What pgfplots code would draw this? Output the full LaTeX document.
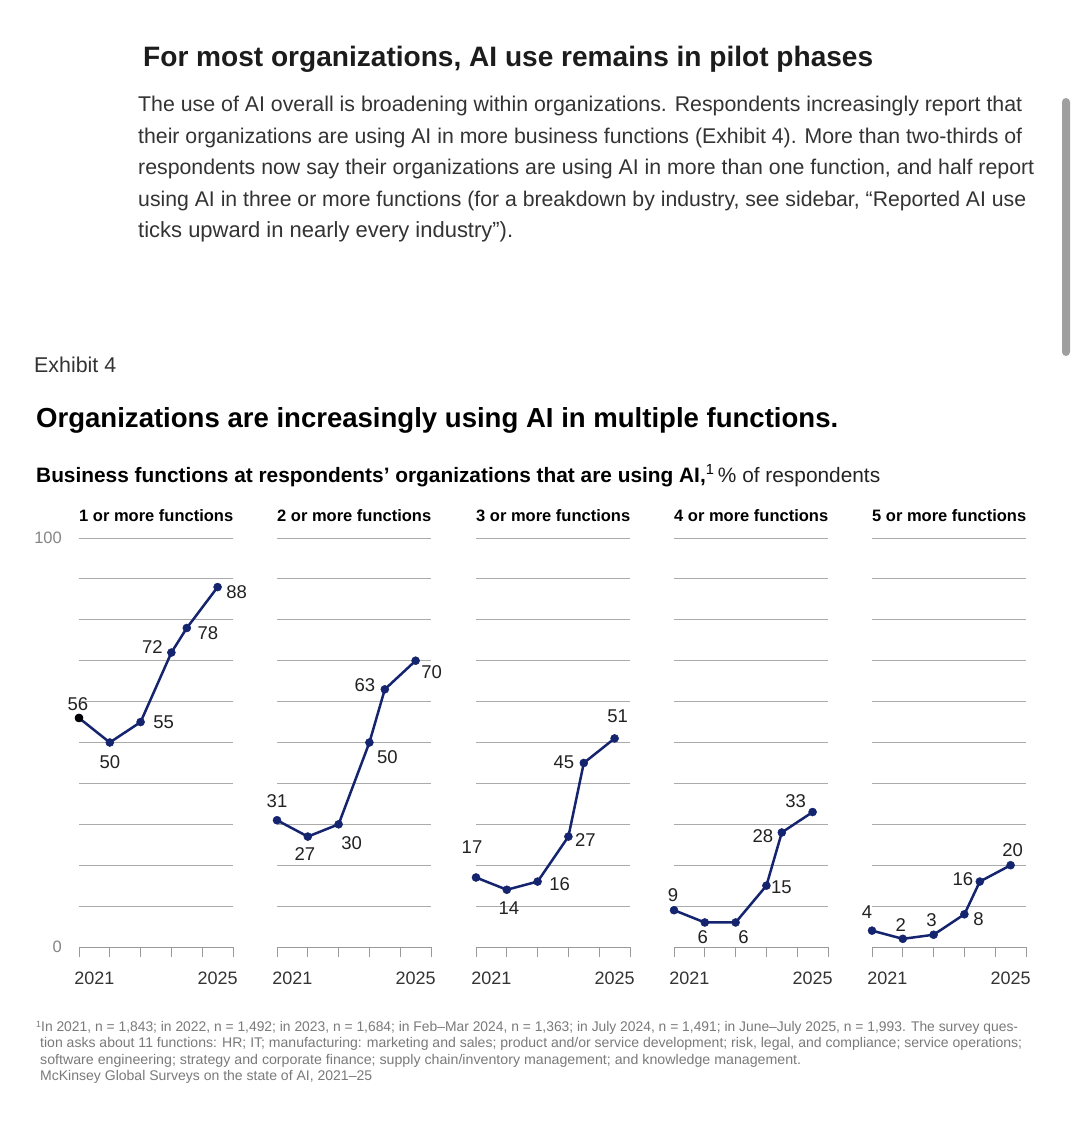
\documentclass[border=0pt]{standalone}
\usepackage{fontspec}
\setmainfont{Liberation Sans}
\usepackage{graphicx}
\usepackage{pgfplots}
\pgfplotsset{compat=1.18}
\definecolor{navy}{HTML}{14246E}
\definecolor{gridgray}{HTML}{ABABAB}
\definecolor{axgray}{HTML}{9A9A9A}
\definecolor{titlecol}{HTML}{1C1C1C}
\definecolor{bodycol}{HTML}{333333}
\definecolor{notecol}{HTML}{7A7A7A}
\definecolor{ticklab}{HTML}{858585}
\definecolor{lblcol}{HTML}{222222}
\newcommand{\fs}[1]{\fontsize{#1}{#1}\selectfont}
\pgfplotsset{
  panel/.style={
    scale only axis, width=154pt, height=409pt,
    xmin=0, xmax=5, ymin=0, ymax=100,
    anchor=south west,
    axis x line*=bottom, axis y line*=left,
    y axis line style={draw=none},
    x axis line style={draw=axgray, line width=1pt},
    xtick={0,1,2,3,4,5}, xticklabels={},
    tick align=outside, major tick length=10pt,
    xtick style={draw=axgray, line width=1pt},
    ytick={10,20,...,100}, yticklabels={},
    ytick style={draw=none},
    ymajorgrids, grid style={draw=gridgray, line width=1pt},
    clip=false,
  },
  series/.style={navy, line width=2.5pt, mark=*, mark size=4pt, mark options={fill=navy, draw=navy, line width=0.5pt}},
}
\tikzset{
  lbl/.style={font=\fs{18.5}, text=lblcol, inner sep=0pt, anchor=center},
  yr/.style={font=\fs{18}, text=bodycol, inner sep=0pt, anchor=center, yshift=-31pt},
  ptitle/.style={font=\fs{16.5}\bfseries, text=black, inner sep=0pt, anchor=west, yshift=22pt},
}
\begin{document}
\begin{tikzpicture}
\useasboundingbox (0,0) rectangle (1080pt,-1131pt);
\fill[white] (0,0) rectangle (1080pt,-1131pt);
% scrollbar
\fill[gray!75, rounded corners=4pt] (1062pt,-98pt) rectangle (1070pt,-356pt);
% article heading and paragraph
\node[anchor=base west, inner sep=0pt, text=titlecol] at (143pt,-67pt) {\resizebox{730pt}{!}{\fs{28}\bfseries For most organizations, AI use remains in pilot phases}};
\node[anchor=base west, inner sep=0pt, text=bodycol] at (138pt,-112pt) {\resizebox{884pt}{!}{\fs{20}The use of AI overall is broadening within organizations. Respondents increasingly report that}};
\node[anchor=base west, inner sep=0pt, text=bodycol] at (138pt,-143.5pt) {\resizebox{884pt}{!}{\fs{20}their organizations are using AI in more business functions (Exhibit 4). More than two-thirds of}};
\node[anchor=base west, inner sep=0pt, text=bodycol] at (138pt,-175pt) {\resizebox{896pt}{!}{\fs{20}respondents now say their organizations are using AI in more than one function, and half report}};
\node[anchor=base west, inner sep=0pt, text=bodycol] at (138pt,-206.5pt) {\resizebox{888pt}{!}{\fs{20}using AI in three or more functions (for a breakdown by industry, see sidebar, “Reported AI use}};
\node[anchor=base west, inner sep=0pt, text=bodycol] at (138pt,-238pt) {\resizebox{375pt}{!}{\fs{20}ticks upward in nearly every industry”).}};
% exhibit header
\node[anchor=base west, inner sep=0pt, text=bodycol] at (34pt,-372pt) {\resizebox{82pt}{!}{\fs{20}Exhibit 4}};
\node[anchor=base west, inner sep=0pt, text=black] at (36pt,-427pt) {\resizebox{802pt}{!}{\fs{28}\bfseries Organizations are increasingly using AI in multiple functions.}};
\node[anchor=base west, inner sep=0pt, text=black] at (36pt,-482pt) {\resizebox{844pt}{!}{\fs{20}{\bfseries Business functions at respondents’ organizations that are using AI,}\textsuperscript{1}\,{\color{lblcol}\% of respondents}}};
% footnote
\node[anchor=base west, inner sep=0pt, text=notecol] at (36pt,-1031pt) {\resizebox{982pt}{\height}{\fs{14}{\fs{9}\raisebox{4pt}{1}}In 2021, n = 1,843; in 2022, n = 1,492; in 2023, n = 1,684; in Feb–Mar 2024, n = 1,363; in July 2024, n = 1,491; in June–July 2025, n = 1,993. The survey ques-}};
\node[anchor=base west, inner sep=0pt, text=notecol] at (40pt,-1047.5pt) {\resizebox{982pt}{\height}{\fs{14}tion asks about 11 functions: HR; IT; manufacturing: marketing and sales; product and/or service development; risk, legal, and compliance; service operations;}};
\node[anchor=base west, inner sep=0pt, text=notecol] at (40pt,-1064pt) {\resizebox{761pt}{\height}{\fs{14}software engineering; strategy and corporate finance; supply chain/inventory management; and knowledge management.}};
\node[anchor=base west, inner sep=0pt, text=notecol] at (40pt,-1080.5pt) {\resizebox{332pt}{\height}{\fs{14}McKinsey Global Surveys on the state of AI, 2021–25}};

% Panel 1
\begin{axis}[panel, at={(79pt,-947pt)}]
\addplot[series] coordinates {(0,56) (1,50) (2,55) (3,72) (3.5,78) (4.5,88)};
\addplot[only marks, mark=*, mark size=4pt, black] coordinates {(0,56)};
\node[ptitle] at (axis cs:0,100) {1 or more functions};
\node[font=\fs{16.5}, text=ticklab, inner sep=0pt, anchor=east, xshift=-17pt] at (axis cs:0,100) {100};
\node[font=\fs{16.5}, text=ticklab, inner sep=0pt, anchor=east, xshift=-17pt] at (axis cs:0,0) {0};
\node[yr] at (axis cs:0.5,0) {2021};
\node[yr] at (axis cs:4.5,0) {2025};
\node[lbl, xshift=-1pt, yshift=14pt] at (axis cs:0,56) {56};
\node[lbl, xshift=0pt, yshift=-20pt] at (axis cs:1,50) {50};
\node[lbl, xshift=23pt, yshift=0pt] at (axis cs:2,55) {55};
\node[lbl, xshift=-19pt, yshift=5pt] at (axis cs:3,72) {72};
\node[lbl, xshift=21pt, yshift=-5pt] at (axis cs:3.5,78) {78};
\node[lbl, xshift=19pt, yshift=-5pt] at (axis cs:4.5,88) {88};
\end{axis}

% Panel 2
\begin{axis}[panel, at={(277pt,-947pt)}]
\addplot[series] coordinates {(0,31) (1,27) (2,30) (3,50) (3.5,63) (4.5,70)};
\node[ptitle] at (axis cs:0,100) {2 or more functions};
\node[yr] at (axis cs:0.5,0) {2021};
\node[yr] at (axis cs:4.5,0) {2025};
\node[lbl, xshift=0pt, yshift=19pt] at (axis cs:0,31) {31};
\node[lbl, xshift=-3pt, yshift=-17pt] at (axis cs:1,27) {27};
\node[lbl, xshift=13pt, yshift=-19pt] at (axis cs:2,30) {30};
\node[lbl, xshift=18pt, yshift=-15pt] at (axis cs:3,50) {50};
\node[lbl, xshift=-20pt, yshift=4pt] at (axis cs:3.5,63) {63};
\node[lbl, xshift=16pt, yshift=-11pt] at (axis cs:4.5,70) {70};
\end{axis}

% Panel 3
\begin{axis}[panel, at={(476pt,-947pt)}]
\addplot[series] coordinates {(0,17) (1,14) (2,16) (3,27) (3.5,45) (4.5,51)};
\node[ptitle] at (axis cs:0,100) {3 or more functions};
\node[yr] at (axis cs:0.5,0) {2021};
\node[yr] at (axis cs:4.5,0) {2025};
\node[lbl, xshift=-4pt, yshift=30pt] at (axis cs:0,17) {17};
\node[lbl, xshift=2pt, yshift=-18pt] at (axis cs:1,14) {14};
\node[lbl, xshift=22pt, yshift=-3pt] at (axis cs:2,16) {16};
\node[lbl, xshift=17pt, yshift=-3pt] at (axis cs:3,27) {27};
\node[lbl, xshift=-20pt, yshift=1pt] at (axis cs:3.5,45) {45};
\node[lbl, xshift=3pt, yshift=22pt] at (axis cs:4.5,51) {51};
\end{axis}

% Panel 4
\begin{axis}[panel, at={(674pt,-947pt)}]
\addplot[series] coordinates {(0,9) (1,6) (2,6) (3,15) (3.5,28) (4.5,33)};
\node[ptitle] at (axis cs:0,100) {4 or more functions};
\node[yr] at (axis cs:0.5,0) {2021};
\node[yr] at (axis cs:4.5,0) {2025};
\node[lbl, xshift=-1pt, yshift=15pt] at (axis cs:0,9) {9};
\node[lbl, xshift=-2pt, yshift=-15pt] at (axis cs:1,6) {6};
\node[lbl, xshift=8pt, yshift=-15pt] at (axis cs:2,6) {6};
\node[lbl, xshift=15pt, yshift=-2pt] at (axis cs:3,15) {15};
\node[lbl, xshift=-19pt, yshift=-4pt] at (axis cs:3.5,28) {28};
\node[lbl, xshift=-17pt, yshift=11pt] at (axis cs:4.5,33) {33};
\end{axis}

% Panel 5
\begin{axis}[panel, at={(872pt,-947pt)}]
\addplot[series] coordinates {(0,4) (1,2) (2,3) (3,8) (3.5,16) (4.5,20)};
\node[ptitle] at (axis cs:0,100) {5 or more functions};
\node[yr] at (axis cs:0.5,0) {2021};
\node[yr] at (axis cs:4.5,0) {2025};
\node[lbl, xshift=-5pt, yshift=19pt] at (axis cs:0,4) {4};
\node[lbl, xshift=-2pt, yshift=14pt] at (axis cs:1,2) {2};
\node[lbl, xshift=-2pt, yshift=15pt] at (axis cs:2,3) {3};
\node[lbl, xshift=14pt, yshift=-5pt] at (axis cs:3,8) {8};
\node[lbl, xshift=-17pt, yshift=2pt] at (axis cs:3.5,16) {16};
\node[lbl, xshift=2pt, yshift=15pt] at (axis cs:4.5,20) {20};
\end{axis}
\end{tikzpicture}
\end{document}
